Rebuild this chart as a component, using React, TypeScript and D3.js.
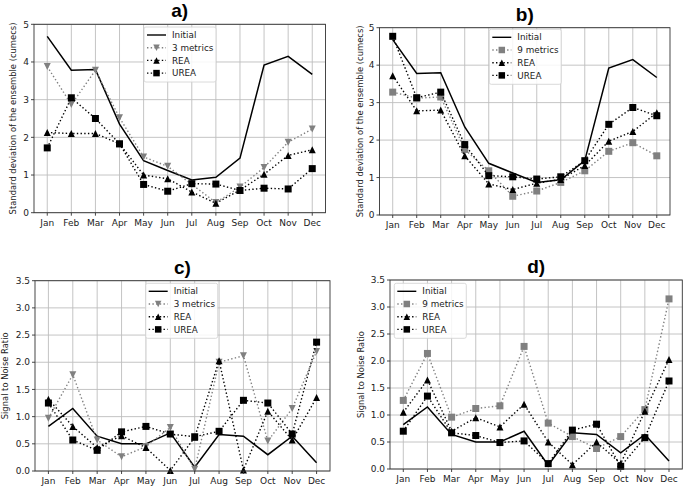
import * as d3 from "d3";

const MONTHS = ["Jan", "Feb", "Mar", "Apr", "May", "Jun", "Jul", "Aug", "Sep", "Oct", "Nov", "Dec"];

// standard deviation of the ensemble (cumecs)
const STD_INITIAL = [4.68, 3.78, 3.8, 2.35, 1.38, 1.12, 0.87, 0.94, 1.45, 3.92, 4.15, 3.67];
const STD_3METRICS = [3.88, 2.87, 3.78, 2.52, 1.48, 1.23, 0.75, 0.27, 0.68, 1.2, 1.87, 2.22];
const STD_REA_A = [2.13, 2.1, 2.1, 1.83, 1.0, 0.9, 0.55, 0.25, 0.6, 1.02, 1.52, 1.67];
const STD_UREA_A = [1.72, 3.05, 2.5, 1.83, 0.75, 0.57, 0.77, 0.76, 0.59, 0.65, 0.63, 1.17];
const STD_9METRICS = [3.28, 3.12, 3.15, 1.75, 1.18, 0.5, 0.64, 0.87, 1.18, 1.7, 1.93, 1.58];
const STD_REA_B = [3.72, 2.78, 2.8, 1.58, 0.83, 0.68, 0.85, 0.95, 1.32, 1.97, 2.23, 2.73];
const STD_UREA_B = [4.77, 3.13, 3.28, 1.88, 1.05, 1.02, 0.96, 1.02, 1.45, 2.42, 2.87, 2.65];

// signal to noise ratio
const SNR_INITIAL = [0.82, 1.15, 0.64, 0.5, 0.5, 0.7, 0.07, 0.67, 0.64, 0.3, 0.64, 0.15];
const SNR_3METRICS = [0.97, 1.77, 0.57, 0.26, 0.45, 0.8, 0.03, 2.0, 2.12, 0.55, 1.15, 2.2];
const SNR_REA_C = [1.32, 0.82, 0.43, 0.65, 0.43, 0.01, 0.62, 2.03, 0.02, 1.1, 0.57, 1.35];
const SNR_UREA_C = [1.25, 0.57, 0.38, 0.72, 0.82, 0.68, 0.63, 0.73, 1.3, 1.25, 0.68, 2.37];
const SNR_9METRICS = [1.27, 2.14, 0.96, 1.12, 1.17, 2.27, 0.85, 0.6, 0.38, 0.6, 1.1, 3.15];
const SNR_REA_D = [1.05, 1.65, 0.7, 0.95, 0.78, 1.2, 0.5, 0.08, 0.5, 0.1, 1.07, 2.03];
const SNR_UREA_D = [0.7, 1.35, 0.67, 0.62, 0.49, 0.52, 0.1, 0.72, 0.83, 0.05, 0.58, 1.63];

const STD_TICKS = [0, 1, 2, 3, 4, 5];
const SNR_TICKS = [0, 0.5, 1, 1.5, 2, 2.5, 3, 3.5];

const GREY = "#808080";
const FONT = "DejaVu Sans, sans-serif";

type Marker = "none" | "square" | "tri" | "triDown";
interface Series {
  label: string;
  values: number[];
  color: string;
  marker: Marker;
  dotted: boolean;
}

function markerPath(m: Marker, s: number) {
  const h = s / 2;
  if (m === "square") return `M${-h},${-h}H${h}V${h}H${-h}Z`;
  if (m === "tri") return `M0,${-h}L${h},${h}L${-h},${h}Z`;
  if (m === "triDown") return `M0,${h}L${h},${-h}L${-h},${-h}Z`;
  return "";
}

interface PanelProps {
  title: string;
  ylabel: string;
  box: { left: number; right: number; top: number; bottom: number };
  yMax: number;
  yTicks: number[];
  tickFmt: (v: number) => string;
  series: Series[];
  legend: { x: number; y: number };
  ylabelX: number;
}

function Panel({ title, ylabel, box, yMax, yTicks, tickFmt, series, legend, ylabelX }: PanelProps) {
  const x = d3.scaleLinear().domain([-0.55, 11.55]).range([box.left, box.right]);
  const y = d3.scaleLinear().domain([0, yMax]).range([box.bottom, box.top]);
  const line = d3
    .line<number>()
    .x((_, i) => x(i))
    .y((d) => y(d));
  const ms = 7;
  const cx = (box.left + box.right) / 2;
  const cy = (box.top + box.bottom) / 2;

  return (
    <g>
      {/* grid */}
      {MONTHS.map((m, i) => (
        <line key={m} x1={x(i)} x2={x(i)} y1={box.top} y2={box.bottom} stroke="#bdbdbd" strokeWidth={0.9} />
      ))}
      {yTicks.map((t) => (
        <line key={t} x1={box.left} x2={box.right} y1={y(t)} y2={y(t)} stroke="#bdbdbd" strokeWidth={0.9} />
      ))}
      {/* series */}
      {series.map((s) => (
        <g key={s.label}>
          <path
            d={line(s.values) ?? ""}
            fill="none"
            stroke={s.color}
            strokeWidth={s.dotted ? 1.4 : 1.5}
            strokeDasharray={s.dotted ? "1.4,2.3" : undefined}
          />
          {s.marker !== "none" &&
            s.values.map((v, i) => (
              <path key={i} d={markerPath(s.marker, ms)} transform={`translate(${x(i)},${y(v)})`} fill={s.color} />
            ))}
        </g>
      ))}
      {/* frame */}
      <rect
        x={box.left}
        y={box.top}
        width={box.right - box.left}
        height={box.bottom - box.top}
        fill="none"
        stroke="#333"
        strokeWidth={0.9}
      />
      {/* x ticks */}
      {MONTHS.map((m, i) => (
        <g key={m}>
          <line x1={x(i)} x2={x(i)} y1={box.bottom} y2={box.bottom + 3} stroke="#333" strokeWidth={0.9} />
          <text x={x(i)} y={box.bottom + 12.8} textAnchor="middle" fontSize={9} fontFamily={FONT} fill="#222">
            {m}
          </text>
        </g>
      ))}
      {/* y ticks */}
      {yTicks.map((t) => (
        <g key={t}>
          <line x1={box.left - 3} x2={box.left} y1={y(t)} y2={y(t)} stroke="#333" strokeWidth={0.9} />
          <text x={box.left - 5} y={y(t) + 3.2} textAnchor="end" fontSize={9} fontFamily={FONT} fill="#222">
            {tickFmt(t)}
          </text>
        </g>
      ))}
      <text
        transform={`translate(${ylabelX},${cy}) rotate(-90)`}
        textAnchor="middle"
        fontSize={8.4}
        fontFamily={FONT}
        fill="#222"
      >
        {ylabel}
      </text>
      <text
        x={cx}
        y={box.top - 7}
        textAnchor="middle"
        fontSize={19}
        fontWeight="bold"
        fontFamily="Liberation Sans, Arial, sans-serif"
        fill="#000"
      >
        {title}
      </text>
      {/* legend */}
      <g transform={`translate(${legend.x},${legend.y})`}>
        <rect x={0} y={0} width={72} height={55} rx={2} fill="white" fillOpacity={0.85} stroke="#d0d0d0" strokeWidth={0.8} />
        {series.map((s, i) => {
          const ry = 8 + i * 12.7;
          return (
            <g key={s.label}>
              <line
                x1={3}
                x2={22}
                y1={ry}
                y2={ry}
                stroke={s.color}
                strokeWidth={1.4}
                strokeDasharray={s.dotted ? "1.4,2.3" : undefined}
              />
              {s.marker !== "none" && (
                <path d={markerPath(s.marker, ms - 0.5)} transform={`translate(12.5,${ry})`} fill={s.color} />
              )}
              <text x={28} y={ry + 3.2} fontSize={8.8} fontFamily={FONT} fill="#222">
                {s.label}
              </text>
            </g>
          );
        })}
      </g>
    </g>
  );
}

const initial = (v: number[]): Series => ({ label: "Initial", values: v, color: "#000", marker: "none", dotted: false });
const rea = (v: number[]): Series => ({ label: "REA", values: v, color: "#000", marker: "tri", dotted: true });
const urea = (v: number[]): Series => ({ label: "UREA", values: v, color: "#000", marker: "square", dotted: true });

export default function App() {
  const intFmt = (v: number) => d3.format("d")(v);
  const decFmt = (v: number) => d3.format(".1f")(v);
  const stdLabel = "Standard deviation of the ensemble (cumecs)";
  const snrLabel = "Signal to Noise Ratio";
  return (
    <div style={{ position: "absolute", left: 0, top: 0 }}>
      <svg width={685} height={489} style={{ display: "block", background: "white" }}>
        <Panel
          title="a)"
          ylabel={stdLabel}
          box={{ left: 34, right: 325.5, top: 24.3, bottom: 212.7 }}
          yMax={5}
          yTicks={STD_TICKS}
          tickFmt={intFmt}
          series={[
            initial(STD_INITIAL),
            { label: "3 metrics", values: STD_3METRICS, color: GREY, marker: "triDown", dotted: true },
            rea(STD_REA_A),
            urea(STD_UREA_A),
          ]}
          legend={{ x: 144, y: 27 }}
          ylabelX={16}
        />
        <Panel
          title="b)"
          ylabel={stdLabel}
          box={{ left: 379.5, right: 670, top: 27.7, bottom: 215 }}
          yMax={5}
          yTicks={STD_TICKS}
          tickFmt={intFmt}
          series={[
            initial(STD_INITIAL),
            { label: "9 metrics", values: STD_9METRICS, color: GREY, marker: "square", dotted: true },
            rea(STD_REA_B),
            urea(STD_UREA_B),
          ]}
          legend={{ x: 489.3, y: 29.3 }}
          ylabelX={362.5}
        />
        <Panel
          title="c)"
          ylabel={snrLabel}
          box={{ left: 35, right: 330, top: 280.7, bottom: 471 }}
          yMax={3.5}
          yTicks={SNR_TICKS}
          tickFmt={decFmt}
          series={[
            initial(SNR_INITIAL),
            { label: "3 metrics", values: SNR_3METRICS, color: GREY, marker: "triDown", dotted: true },
            rea(SNR_REA_C),
            urea(SNR_UREA_C),
          ]}
          legend={{ x: 145.7, y: 283.3 }}
          ylabelX={8}
        />
        <Panel
          title="d)"
          ylabel={snrLabel}
          box={{ left: 390, right: 682.3, top: 280, bottom: 469 }}
          yMax={3.5}
          yTicks={SNR_TICKS}
          tickFmt={decFmt}
          series={[
            initial(SNR_INITIAL),
            { label: "9 metrics", values: SNR_9METRICS, color: GREY, marker: "square", dotted: true },
            rea(SNR_REA_D),
            urea(SNR_UREA_D),
          ]}
          legend={{ x: 394.3, y: 283.3 }}
          ylabelX={364}
        />
      </svg>
    </div>
  );
}
